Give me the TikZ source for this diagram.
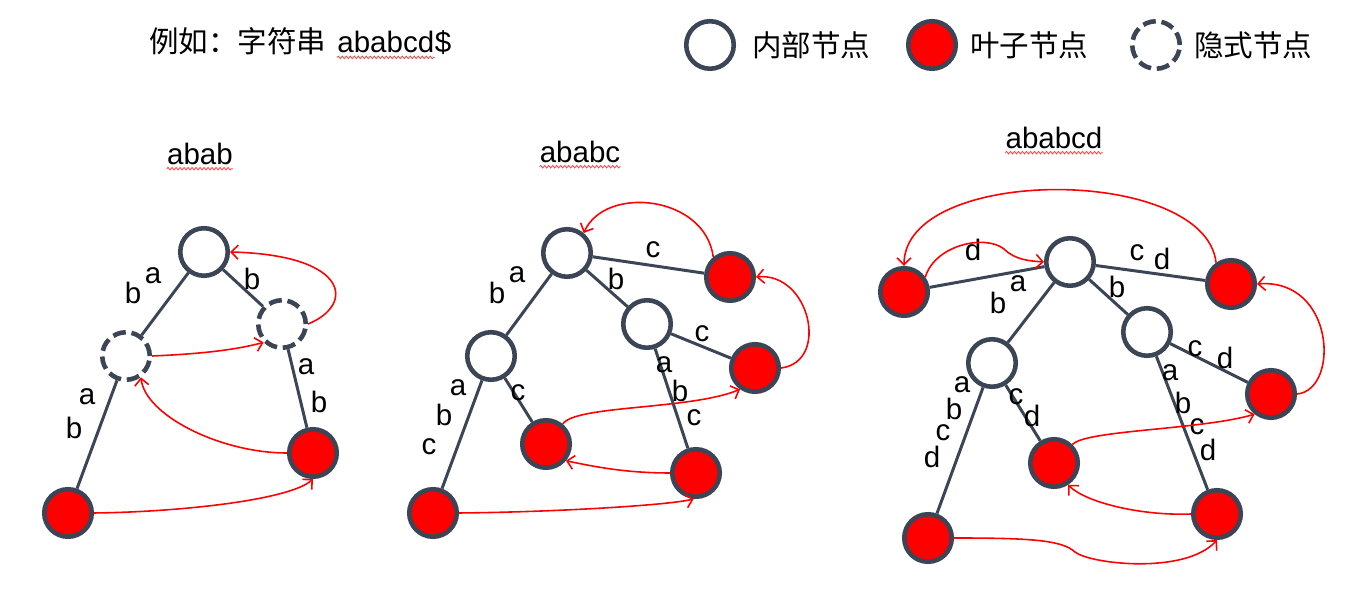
\documentclass[tikz,border=0pt]{standalone}
\usepackage{fontspec}
\setmainfont{Liberation Sans}
\newfontfamily\cjk{Noto Sans CJK SC}
\usetikzlibrary{arrows.meta,decorations.pathmorphing}
\definecolor{slate}{HTML}{3B4556}
\definecolor{leafred}{HTML}{FF0000}
\tikzset{
	inode/.style={circle, draw=slate, line width=2.6pt, fill=white, minimum size=0.95cm, inner sep=0pt},
	leaf/.style={inode, fill=leafred},
	hidden/.style={inode, dash pattern=on 0.26cm off 0.115cm},
	edge/.style={draw=slate, line width=1.7pt},
	link/.style={draw=leafred, line width=0.9pt, -{Straight Barb[length=1.4mm,width=2.8mm]}},
	lbl/.style={inner sep=0pt},
	squiggle/.style={draw=leafred!75, line width=0.45pt, decorate, decoration={snake, amplitude=0.25mm, segment length=0.8mm}},
}

\begin{document}
\begin{tikzpicture}[x=0.02cm, y=0.02cm, font=\fontsize{16.8pt}{20pt}\selectfont]
			%%%%% START %%%%%
			\useasboundingbox (0,0) rectangle (1345,590);
			
			% title and legend
			\node[lbl, anchor=base west] (ttl) at (149,537) {\cjk 例如：字符串};
			\node[lbl, anchor=base west] (ttlw) at (337,537) {ababcd};
			\node[lbl, anchor=base west] (ttld) at (ttlw.base east) {\$};
			\draw[squiggle] ([yshift=-2.5pt]ttlw.base west) -- ([yshift=-2.5pt]ttlw.base east);
			
			\node[inode] (leg1) at (710,545) {};
			\node[lbl, anchor=west] (legt1) at (752,545) {\cjk 内部节点};
			\node[leaf] (leg2) at (932,545) {};
			\node[lbl, anchor=west] (legt2) at (970,545) {\cjk 叶子节点};
			\node[hidden] (leg3) at (1156,545) {};
			\node[lbl, anchor=west] (legt3) at (1194,545) {\cjk 隐式节点};
			
			% headers
			\node[lbl] (hd1) at (200,436) {abab};
			\node[lbl] (hd2) at (580,438) {ababc};
			\node[lbl] (hd3) at (1054,452) {ababcd};
			\draw[squiggle] ([yshift=-2pt]hd1.south west) -- ([yshift=-2pt]hd1.south east);
			\draw[squiggle] ([yshift=-2pt]hd2.south west) -- ([yshift=-2pt]hd2.south east);
			\draw[squiggle] ([yshift=-2pt]hd3.south west) -- ([yshift=-2pt]hd3.south east);
			
			% tree abab
			\node[inode] (r1) at (204,338) {};
			\node[hidden] (h1) at (126,234) {};
			\node[hidden] (h2) at (282,266) {};
			\node[leaf] (f1) at (313,137) {};
			\node[leaf] (f2) at (68,77) {};
			\draw[edge] (r1) -- (h1);
			\draw[edge] (r1) -- (h2);
			\draw[edge] (h1) -- (f2);
			\draw[edge] (h2) -- (f1);
			\node[lbl] (a1) at (153,314) {a};
			\node[lbl] (a2) at (133,297) {b};
			\node[lbl] (a3) at (252,311) {b};
			\node[lbl] (a4) at (87,193) {a};
			\node[lbl] (a5) at (74,162) {b};
			\node[lbl] (a6) at (306,223) {a};
			\node[lbl] (a7) at (319,188) {b};
			\draw[link] (h2.east) .. controls (355,285) and (350,335) .. (r1.east);
			\draw[link] (h1.east) .. controls (200,236) and (235,240) .. (h2.225);
			\draw[link] (f1.west) .. controls (220,137) and (145,175) .. (h1.-55);
			\draw[link] (f2.east) .. controls (180,78) and (290,90) .. (f1.south);
			
			% tree ababc
			\node[inode] (r2) at (567,337) {};
			\node[leaf] (g1) at (730,313) {};
			\node[inode] (m2) at (647,266) {};
			\node[leaf] (g2) at (755,222) {};
			\node[inode] (n2) at (491,234) {};
			\node[leaf] (g3) at (546,146) {};
			\node[leaf] (g4) at (696,117) {};
			\node[leaf] (g5) at (433,77) {};
			\draw[edge] (r2) -- (g1);
			\draw[edge] (r2) -- (m2);
			\draw[edge] (r2) -- (n2);
			\draw[edge] (m2) -- (g2);
			\draw[edge] (m2) -- (g4);
			\draw[edge] (n2) -- (g3);
			\draw[edge] (n2) -- (g5);
			\node[lbl] (b1) at (517,315) {a};
			\node[lbl] (b2) at (497,297) {b};
			\node[lbl] (b3) at (653,340) {c};
			\node[lbl] (b4) at (616,311) {b};
			\node[lbl] (b5) at (702,256) {c};
			\node[lbl] (b6) at (664,225) {a};
			\node[lbl] (b7) at (680,199) {b};
			\node[lbl] (b8) at (694,172) {c};
			\node[lbl] (b9) at (458,202) {a};
			\node[lbl] (b10) at (444,175) {b};
			\node[lbl] (b11) at (429,143) {c};
			\node[lbl] (b12) at (518,197) {c};
			\draw[link] (g1.130) .. controls (705,395) and (605,405) .. (r2.50);
			\draw[link] (g2.east) .. controls (830,228) and (810,318) .. (g1.east);
			\draw[link] (g3.50) .. controls (575,185) and (690,180) .. (g2.235);
			\draw[link] (g4.west) .. controls (630,117) and (600,122) .. (g3.-40);
			\draw[link] (g5.east) .. controls (560,78) and (670,85) .. (g4.-95);
			
			% tree ababcd
			\node[inode] (r3) at (1070,328) {};
			\node[leaf] (k1) at (904,298) {};
			\node[leaf] (k2) at (1231,306) {};
			\node[inode] (m3) at (1147,258) {};
			\node[leaf] (k3) at (1271,196) {};
			\node[inode] (n3) at (992,227) {};
			\node[leaf] (k4) at (1054,127) {};
			\node[leaf] (k5) at (1217,76) {};
			\node[leaf] (k6) at (928,52) {};
			\draw[edge] (k1) -- (r3);
			\draw[edge] (r3) -- (k2);
			\draw[edge] (r3) -- (m3);
			\draw[edge] (r3) -- (n3);
			\draw[edge] (m3) -- (k3);
			\draw[edge] (m3) -- (k5);
			\draw[edge] (n3) -- (k4);
			\draw[edge] (n3) -- (k6);
			\node[lbl] (c1) at (973,340) {d};
			\node[lbl] (c2) at (1018,306) {a};
			\node[lbl] (c3) at (998,287) {b};
			\node[lbl] (c4) at (1137,337) {c};
			\node[lbl] (c5) at (1162,331) {d};
			\node[lbl] (c6) at (1117,303) {b};
			\node[lbl] (c7) at (1195,241) {c};
			\node[lbl] (c8) at (1225,232) {d};
			\node[lbl] (c9) at (1170,217) {a};
			\node[lbl] (c10) at (1183,187) {b};
			\node[lbl] (c11) at (1197,163) {c};
			\node[lbl] (c12) at (1208,140) {d};
			\node[lbl] (c13) at (1016,193) {c};
			\node[lbl] (c14) at (1032,174) {d};
			\node[lbl] (c15) at (962,205) {a};
			\node[lbl] (c16) at (954,181) {b};
			\node[lbl] (c17) at (943,157) {c};
			\node[lbl] (c18) at (932,133) {d};
			\coordinate (w1) at (1004,341);
			\coordinate (w2) at (1075,38);
			\draw[link] (k2.125) .. controls (1205,425) and (904,425) .. (k1.north);
			\draw[link] (k1.35) .. controls (935,345) and (985,356) .. (w1) .. controls (1015,330) and (1030,329) .. (r3.west);
			\draw[link] (k3.east) .. controls (1340,200) and (1335,312) .. (k2.east);
			\draw[link] (k4.45) .. controls (1085,160) and (1200,160) .. (k3.231);
			\draw[link] (k5.west) .. controls (1140,74) and (1085,88) .. (k4.-57);
			\draw[link] (k6.east) .. controls (1030,52) and (1062,50) .. (w2) .. controls (1090,26) and (1185,15) .. (k5.south);
			
			%%%%% END %%%%%
\end{tikzpicture}
\end{document}
